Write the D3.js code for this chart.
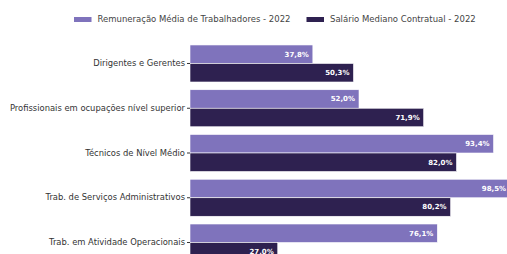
<!DOCTYPE html>
<html>
<head>
<meta charset="utf-8">
<script src="https://cdn.jsdelivr.net/npm/d3@7"></script>
<style>
  body { margin: 0; background: #fff; }
  svg { display: block; font-family: "DejaVu Sans", sans-serif; }
</style>
</head>
<body>
<svg width="507" height="254"></svg>
<script>
// categorias e valores (% )
var categories = [
  "Dirigentes e Gerentes",
  "Profissionais em ocupações nível superior",
  "Técnicos de Nível Médio",
  "Trab. de Serviços Administrativos",
  "Trab. em Atividade Operacionais"
];
var seriesNames = ["Remuneração Média de Trabalhadores - 2022", "Salário Mediano Contratual - 2022"];
var remuneracao = [37.8, 52.0, 93.4, 98.5, 76.1];
var salario = [50.3, 71.9, 82.0, 80.2, 27.0];
var colors = ["#7f73bc", "#2e2150"];

var svg = d3.select("svg");

var rows = categories.map(function(c, i) {
  return {cat: c, values: [remuneracao[i], salario[i]]};
});

var x = d3.scaleLinear().domain([0, 100]).range([190, 515]);

var y = d3.scaleBand()
  .domain(categories)
  .range([41.1, 264.9])
  .paddingInner(0.173)
  .paddingOuter(0.0866);

var ySub = d3.scaleBand()
  .domain([0, 1])
  .range([0, y.bandwidth()]);

var fmt = function(v) { return d3.format(".1f")(v).replace(".", ",") + "%"; };

// barras
var g = svg.selectAll("g.row")
  .data(rows)
  .enter().append("g")
    .attr("class", "row")
    .attr("transform", function(d) { return "translate(0," + y(d.cat) + ")"; });

g.selectAll("rect")
  .data(function(d) { return d.values; })
  .enter().append("rect")
    .attr("x", x(0))
    .attr("y", function(d, i) { return ySub(i); })
    .attr("width", function(d) { return x(d) - x(0); })
    .attr("height", ySub.bandwidth())
    .attr("fill", function(d, i) { return colors[i]; })
    .attr("stroke", "#fff")
    .attr("stroke-width", 0.6);

g.selectAll("text.val")
  .data(function(d) { return d.values; })
  .enter().append("text")
    .attr("class", "val")
    .attr("x", function(d) { return x(d) - 4; })
    .attr("y", function(d, i) { return ySub(i) + ySub.bandwidth() / 2; })
    .attr("dy", "0.35em")
    .attr("text-anchor", "end")
    .attr("fill", "#fff")
    .attr("font-size", 7)
    .attr("font-weight", "bold")
    .text(fmt);

// eixo y
var yAxis = d3.axisLeft(y).tickSize(3).tickPadding(2);
var ax = svg.append("g")
  .attr("transform", "translate(" + x(0) + ",0)")
  .call(yAxis);
ax.select(".domain").remove();
ax.selectAll(".tick line").attr("stroke", "#333");
ax.selectAll(".tick text")
  .attr("font-size", 8.4)
  .attr("fill", "#333")
  .attr("font-family", "DejaVu Sans, sans-serif");

// legenda
var legendX = [74, 306.5];
var leg = svg.selectAll("g.leg")
  .data(seriesNames)
  .enter().append("g")
    .attr("class", "leg")
    .attr("transform", function(d, i) { return "translate(" + legendX[i] + ",17)"; });
leg.append("rect")
  .attr("width", 17.5)
  .attr("height", 5)
  .attr("fill", function(d, i) { return colors[i]; });
leg.append("text")
  .attr("x", 23.5)
  .attr("y", 2.5)
  .attr("dy", "0.35em")
  .attr("font-size", 8.5)
  .attr("fill", "#444")
  .text(function(d) { return d; });
</script>
</body>
</html>
